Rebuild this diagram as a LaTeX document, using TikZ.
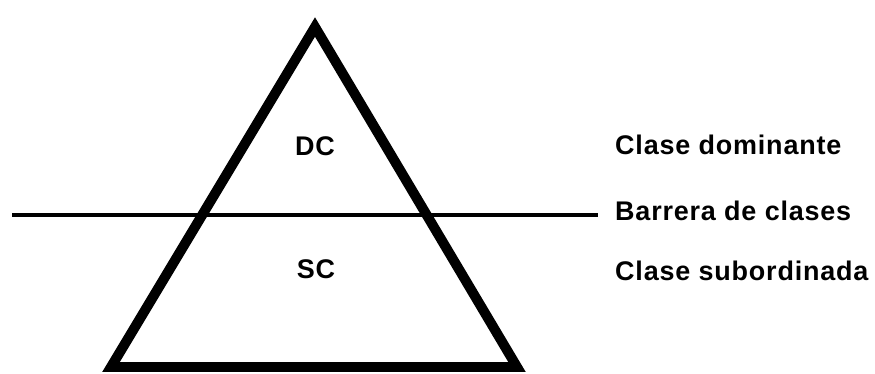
\documentclass[tikz,border=0pt]{standalone}
\usepackage{fontspec}
\newfontfamily\classfont[LetterSpace=3]{Liberation Sans}
\usepackage{tikz}
\tikzset{
    classlabel/.style={font=\classfont\bfseries\fontsize{23}{27}\selectfont, inner sep=0},
}

\begin{document}
\begin{tikzpicture}
    \useasboundingbox (0, 0) rectangle (26.25, 11.19);
    \coordinate (top) at (9.45, 10.38);
    \coordinate (left) at (3.33, 0.18);
    \coordinate (right) at (15.51, 0.18);
    \coordinate (barrier start) at (0.36, 4.74);
    \coordinate (barrier end) at (17.94, 4.74);
    \draw[line width=8.5pt, miter limit=20] (top) -- (left) -- (right) -- cycle;
    \draw[line width=3.2pt] (barrier start) -- (barrier end);
    \node[classlabel, anchor=base] (dc) at (9.45, 6.54) {DC};
    \node[classlabel, anchor=base] (sc) at (9.48, 2.85) {SC};
    \node[classlabel, anchor=base west] (dominant) at (18.45, 6.57) {Clase dominante};
    \node[classlabel, anchor=base west] (barrier) at (18.45, 4.59) {Barrera de clases};
    \node[classlabel, anchor=base west] (subordinate) at (18.45, 2.79) {Clase subordinada};
\end{tikzpicture}
\end{document}
